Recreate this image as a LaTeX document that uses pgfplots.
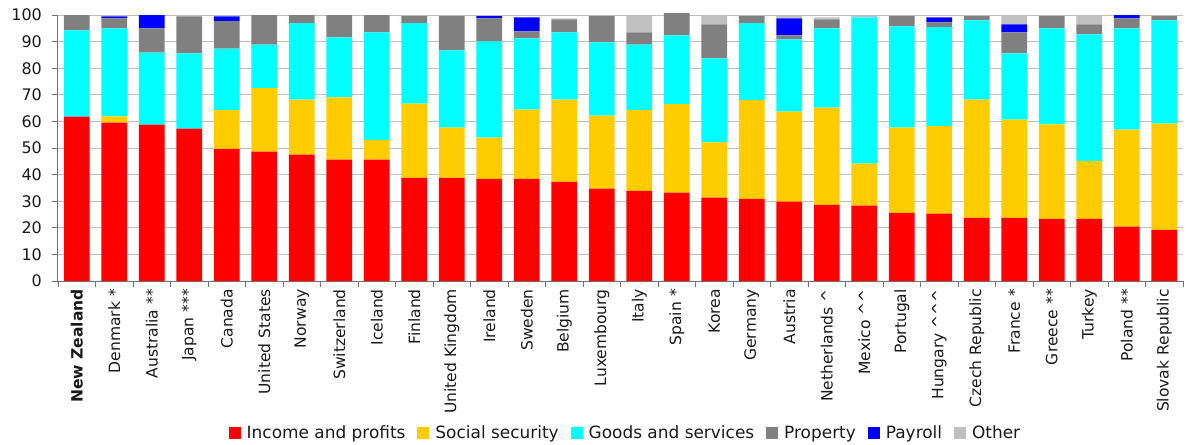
\documentclass[border=0pt]{standalone}
\usepackage{fontspec}
\setmainfont{DejaVu Sans}
\usepackage{pgfplots}
\usepackage{pgfplotstable}
\pgfplotsset{compat=1.18}
\definecolor{cInc}{HTML}{FF0000}
\definecolor{cSoc}{HTML}{FFCC00}
\definecolor{cGs}{HTML}{00FFFF}
\definecolor{cProp}{HTML}{808080}
\definecolor{cPay}{HTML}{0000FF}
\definecolor{cOth}{HTML}{C0C0C0}

\pgfplotstableread{
x inc soc gs prop pay oth
0 61.8 0 32.4 5.8 0 0
1 59.5 2.4 33.1 3.7 0.8 0
2 58.8 0 27.1 9.1 5.0 0
3 57.3 0 28.3 13.9 0 0.5
4 49.7 14.5 23.2 10.3 1.8 0
5 48.6 23.9 16.4 11.1 0 0
6 47.5 20.7 28.7 3.1 0 0
7 45.6 23.4 22.6 8.4 0 0
8 45.6 7.5 40.4 6.5 0 0
9 38.8 27.9 30.2 2.7 0 0
10 38.8 18.9 29.0 12.9 0 0
11 38.4 15.5 36.2 8.6 0.9 0
12 38.4 26.0 26.8 2.6 5.3 0
13 37.3 30.9 25.3 4.9 0 0.3
14 34.7 27.5 27.5 9.9 0 0
15 33.9 30.3 24.7 4.6 0 6.1
16 33.2 33.3 25.8 8.4 0 0
17 31.3 20.8 31.6 12.8 0 3.5
18 30.9 37.1 28.9 2.7 0 0
19 29.8 33.9 27.1 1.5 6.4 0.9
20 28.6 36.6 29.8 3.4 0 0.7
21 28.3 15.8 55.0 0 0 0.5
22 25.6 32.1 38.0 3.9 0 0
23 25.3 32.9 37.2 1.8 1.9 0
24 23.7 44.5 29.8 1.6 0 0
25 23.7 37.0 24.9 7.9 3.0 3.5
26 23.4 35.5 36.1 4.6 0 0
27 23.4 21.8 47.5 3.8 0 3.5
28 20.4 36.5 38.1 3.7 1.3 0
29 19.2 40.0 38.8 1.6 0 0
}\taxdata

\begin{document}
\begin{tikzpicture}
\path[use as bounding box] (-58bp,-164bp) rectangle (1132bp,281bp);
\begin{axis}[
  at={(0,0)}, anchor=south west,
  scale only axis, width=1125bp, height=266bp,
  ybar stacked, bar width=0.69,
  xmin=-0.5, xmax=29.5, ymin=0, ymax=100,
  clip=false,
  axis x line*=bottom, axis y line*=left,
  axis line style={-, draw=black!55, line width=1bp},
  ytick={0,10,...,100},
  xtick={0,...,29},
  xticklabels={\textbf{New Zealand},Denmark *,Australia **,Japan ***,Canada,United States,Norway,Switzerland,Iceland,Finland,United Kingdom,Ireland,Sweden,Belgium,Luxembourg,Italy,Spain *,Korea,Germany,Austria,Netherlands \textasciicircum,Mexico \textasciicircum\textasciicircum,Portugal,Hungary \textasciicircum\textasciicircum\textasciicircum,Czech Republic,France *,Greece **,Turkey,Poland **,Slovak Republic},
  tick align=outside,
  major tick length=6bp,
  major x tick style={draw=none},
  y tick style={draw=black!55, line width=0.8bp},
  extra x ticks={-0.5,0.5,...,29.5},
  extra x tick labels={},
  extra x tick style={major x tick style={draw=black!55, line width=0.8bp}, grid=none},
  ymajorgrids=true,
  grid style={draw=black!25, line width=1bp},
  /pgf/number format/assume math mode=true,
  yticklabel style={font=\fontsize{16}{19}\selectfont, text=black!90, inner sep=1bp, xshift=-9bp},
  xticklabel style={font=\fontsize{15.6}{18}\selectfont, text=black!90, rotate=90, anchor=east, inner sep=2bp},
  legend style={draw=none, fill=none, at={(0.5044,-0.571)}, anchor=center,
    font=\fontsize{17}{20}\selectfont, text=black!90,
    /tikz/every odd column/.append style={column sep=4bp},
    /tikz/every even column/.append style={column sep=10bp}},
  legend columns=-1,
  legend image code/.code={\fill[#1] (0bp,-6bp) rectangle (12bp,6bp);},
  every axis plot/.append style={draw=none},
]
\addplot[fill=cInc] table[x=x,y=inc] {\taxdata};
\addplot[fill=cSoc] table[x=x,y=soc] {\taxdata};
\addplot[fill=cGs] table[x=x,y=gs] {\taxdata};
\addplot[fill=cProp] table[x=x,y=prop] {\taxdata};
\addplot[fill=cPay] table[x=x,y=pay] {\taxdata};
\addplot[fill=cOth] table[x=x,y=oth] {\taxdata};
\legend{Income and profits,Social security,Goods and services,Property,Payroll,Other}
\end{axis}
\end{tikzpicture}
\end{document}
